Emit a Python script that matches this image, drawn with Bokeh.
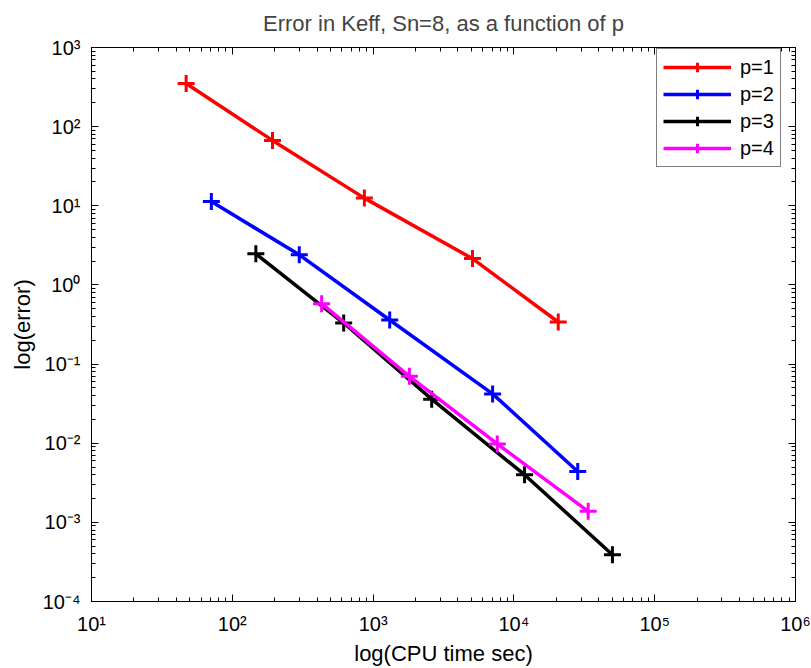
from bokeh.plotting import figure
from bokeh.models import LogAxis, FixedTicker, Legend, LegendItem
from bokeh.embed import file_html
from bokeh.resources import INLINE

# ---- data ----
cpu_p1 = [47, 193, 867, 5080, 20650]
err_p1 = [350, 67, 12.5, 2.15, 0.34]
cpu_p2 = [71, 299, 1312, 7060, 28400]
err_p2 = [11.3, 2.4, 0.36, 0.042, 0.0044]
cpu_p3 = [147, 618, 2606, 11900, 50100]
err_p3 = [2.47, 0.33, 0.036, 0.0040, 0.00039]
cpu_p4 = [431, 1811, 7620, 33700]
err_p4 = [0.58, 0.070, 0.0098, 0.00138]

series_labels = ["p=1", "p=2", "p=3", "p=4"]
series_colors = ["#ff0000", "#0000ff", "#000000", "#ff00ff"]

x_ticks = [1e1, 1e2, 1e3, 1e4, 1e5, 1e6]
x_tick_labels = ["10¹", "10²", "10³", "10⁴", "10⁵", "10⁶"]
y_ticks = [1e-4, 1e-3, 1e-2, 1e-1, 1e0, 1e1, 1e2, 1e3]
y_tick_labels = ["10⁻⁴", "10⁻³", "10⁻²", "10⁻¹", "10⁰", "10¹", "10²", "10³"]

x_minor = [k * 10.0 ** n for n in range(1, 6) for k in range(2, 10)]
y_minor = [k * 10.0 ** n for n in range(-4, 3) for k in range(2, 10)]

FONT = "Liberation Sans"

p = figure(width=811, height=668, x_axis_type="log", y_axis_type="log",
           x_range=(1e1, 1e6), y_range=(1e-4, 1e3),
           output_backend="svg", toolbar_location=None,
           min_border_left=91, min_border_right=16,
           min_border_top=46, min_border_bottom=66,
           title="Error in Keff, Sn=8, as a function of p")

p.title.text_font = FONT
p.title.text_font_size = "22px"
p.title.text_font_style = "normal"
p.title.align = "center"
p.title.vertical_align = "top"
p.title.standoff = 20

p.grid.visible = False
p.background_fill_color = "white"
p.border_fill_color = "white"
p.outline_line_color = "black"
p.outline_line_width = 1

xt = FixedTicker(ticks=x_ticks, minor_ticks=x_minor)
yt = FixedTicker(ticks=y_ticks, minor_ticks=y_minor)


def style_axis(ax, ticker, labels=None):
    ax.ticker = ticker
    ax.axis_line_color = "black"
    ax.axis_line_width = 1
    ax.major_tick_in = 7
    ax.major_tick_out = 0
    ax.minor_tick_in = 4
    ax.minor_tick_out = 0
    ax.major_tick_line_color = "black"
    ax.minor_tick_line_color = "black"
    if labels is not None:
        ax.major_label_overrides = dict(zip(ticker.ticks, labels))
        ax.major_label_text_font = FONT
        ax.major_label_text_font_size = "20px"
        ax.major_label_text_color = "black"
    else:
        ax.major_label_text_font_size = "2px"
        ax.major_label_text_color = None
        ax.major_label_standoff = 0


style_axis(p.xaxis[0], xt, x_tick_labels)
style_axis(p.yaxis[0], yt, y_tick_labels)
p.xaxis[0].major_label_standoff = 11
p.yaxis[0].major_label_standoff = 11
p.xaxis[0].axis_label = "log(CPU time sec)"
p.yaxis[0].axis_label = "log(error)"
for ax in (p.xaxis[0], p.yaxis[0]):
    ax.axis_label_text_font = FONT
    ax.axis_label_text_font_size = "22px"
    ax.axis_label_text_font_style = "normal"
    ax.axis_label_text_color = "black"
p.xaxis[0].axis_label_standoff = 3
p.yaxis[0].axis_label_standoff = 5

top_ax = LogAxis()
style_axis(top_ax, FixedTicker(ticks=x_ticks, minor_ticks=x_minor))
p.add_layout(top_ax, "above")
right_ax = LogAxis()
style_axis(right_ax, FixedTicker(ticks=y_ticks, minor_ticks=y_minor))
p.add_layout(right_ax, "right")

xs = [cpu_p1, cpu_p2, cpu_p3, cpu_p4]
ys = [err_p1, err_p2, err_p3, err_p4]
items = []
for x, y, lab, col in zip(xs, ys, series_labels, series_colors):
    r1 = p.line(x, y, line_color=col, line_width=3.5)
    r2 = p.scatter(x, y, marker="cross", size=17, line_color=col, line_width=3)
    items.append(LegendItem(label=lab, renderers=[r1, r2]))

legend = Legend(items=items, location=(565, 434))
legend.label_text_font = FONT
legend.label_text_font_size = "20px"
legend.label_text_color = "black"
legend.border_line_color = "black"
legend.border_line_width = 1
legend.background_fill_color = "white"
legend.background_fill_alpha = 1
legend.padding = 6
legend.margin = 0
legend.spacing = 3
legend.glyph_width = 68
legend.glyph_height = 24
legend.label_height = 24
legend.label_standoff = 9
legend.label_width = 20
p.add_layout(legend, "center")

open("out.html", "w").write(file_html(p, INLINE))
